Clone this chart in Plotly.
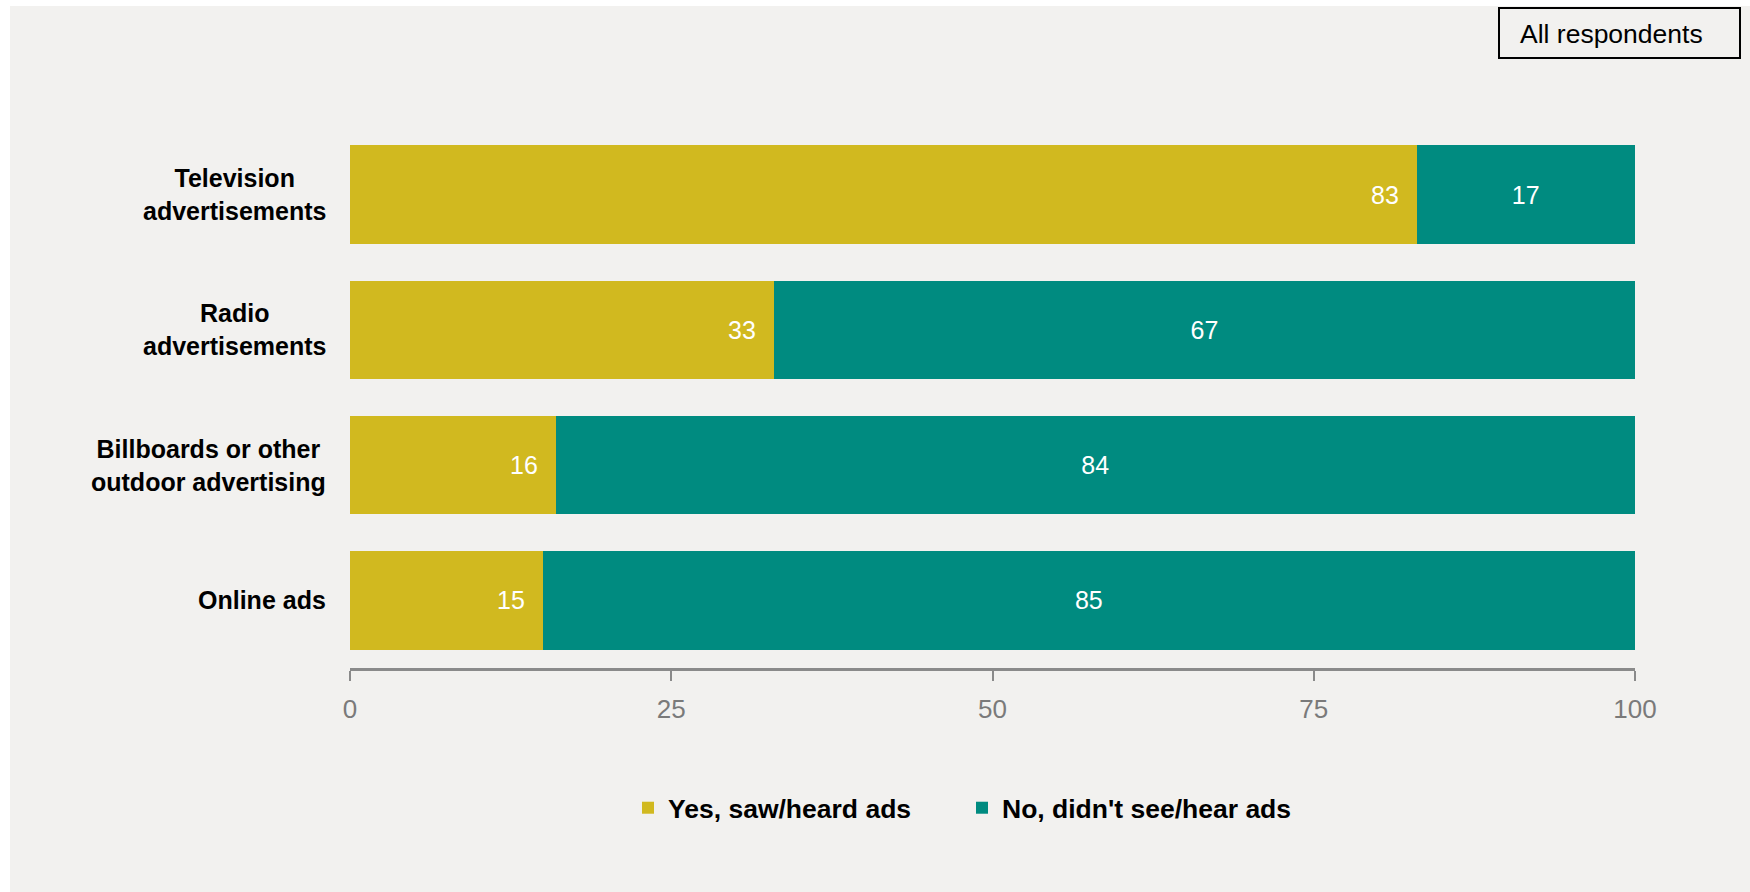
import plotly.graph_objects as go

# Survey results: share of respondents who saw/heard each type of ad
categories = [
    "Television<br>advertisements",
    "Radio<br>advertisements",
    "Billboards or other<br>outdoor advertising",
    "Online ads",
]
yes_values = [83, 33, 16, 15]
no_values = [17, 67, 84, 85]
series_names = ["Yes, saw/heard ads", "No, didn't see/hear ads"]
x_ticks = [0, 25, 50, 75, 100]
badge_text = "All respondents"

YELLOW = "#D1B91F"
TEAL = "#008B80"
PANEL = "#F2F1EF"
AXIS_GREY = "#8A8A8A"
FONT = "Liberation Sans, Arial, sans-serif"

W, H = 1750, 892
L, R, T, B = 350, 115, 127, 224
PW, PH = W - L - R, H - T - B


def px_x(p):
    return (p - L) / PW


def px_y(p):
    return (H - B - p) / PH


fig = go.Figure()
fig.add_trace(go.Bar(
    y=categories, x=yes_values, orientation="h", name=series_names[0],
    marker=dict(color=YELLOW, line=dict(width=0)),
    hoverinfo="x+y",
))
fig.add_trace(go.Bar(
    y=categories, x=no_values, orientation="h", name=series_names[1],
    marker=dict(color=TEAL, line=dict(width=0)),
    text=[str(v) for v in no_values], textposition="inside",
    insidetextanchor="middle", textangle=0, constraintext="none",
    textfont=dict(color="white", size=25, family=FONT),
    hoverinfo="x+y",
))

annotations = []
# value labels at the right end of the "yes" segments
for cat, v in zip(categories, yes_values):
    annotations.append(dict(
        x=v, y=cat, xref="x", yref="y", text=str(v), showarrow=False,
        xanchor="right", xshift=-16,
        font=dict(color="white", size=25, family=FONT),
    ))
# category labels, centred multi-line text to the left of the bars
for cat in categories:
    annotations.append(dict(
        x=0, y=cat, xref="paper", yref="y", text=cat, showarrow=False,
        xanchor="right", xshift=-22, align="center",
        font=dict(color="black", size=25, family=FONT, weight="bold"),
    ))
# "All respondents" badge text
annotations.append(dict(
    x=px_x(1518), y=px_y(34), xref="paper", yref="paper", text=badge_text,
    showarrow=False, xanchor="left", yanchor="middle",
    font=dict(color="black", size=26.5, family=FONT),
))

shapes = [
    # white edges along the top and left of the panel
    dict(type="rect", xref="paper", yref="paper",
         x0=px_x(-5), x1=px_x(W + 5), y0=px_y(6), y1=px_y(-5),
         fillcolor="white", line=dict(width=0)),
    dict(type="rect", xref="paper", yref="paper",
         x0=px_x(-5), x1=px_x(10), y0=px_y(H + 5), y1=px_y(-5),
         fillcolor="white", line=dict(width=0)),
    # badge frame
    dict(type="rect", xref="paper", yref="paper",
         x0=px_x(1499), x1=px_x(1740), y0=px_y(58), y1=px_y(8),
         fillcolor="rgba(0,0,0,0)", line=dict(color="black", width=2)),
]

fig.update_layout(
    width=W, height=H,
    margin=dict(l=L, r=R, t=T, b=B, autoexpand=False),
    barmode="stack", bargap=0.27,
    paper_bgcolor=PANEL, plot_bgcolor=PANEL,
    font=dict(family=FONT, color="black"),
    showlegend=True,
    legend=dict(
        orientation="h", x=px_x(628), xanchor="left",
        y=px_y(808), yanchor="middle",
        font=dict(size=26.5, family=FONT, color="black", weight="bold"),
        bgcolor="rgba(0,0,0,0)", traceorder="normal",
        entrywidth=289, entrywidthmode="pixels",
        itemclick=False, itemdoubleclick=False,
    ),
    xaxis=dict(
        range=[0, 100], tickvals=x_ticks, ticktext=[str(t) for t in x_ticks],
        showgrid=False, zeroline=False,
        showline=True, linecolor=AXIS_GREY, linewidth=3,
        ticks="outside", ticklen=10, tickwidth=2, tickcolor=AXIS_GREY,
        tickfont=dict(size=26, color="#7A7A7A", family=FONT),
        ticklabelstandoff=6, fixedrange=True,
    ),
    yaxis=dict(
        autorange="reversed", showticklabels=False, showgrid=False,
        zeroline=False, showline=False, ticks="", fixedrange=True,
    ),
    annotations=annotations,
    shapes=shapes,
)

fig.write_html("out.html")
